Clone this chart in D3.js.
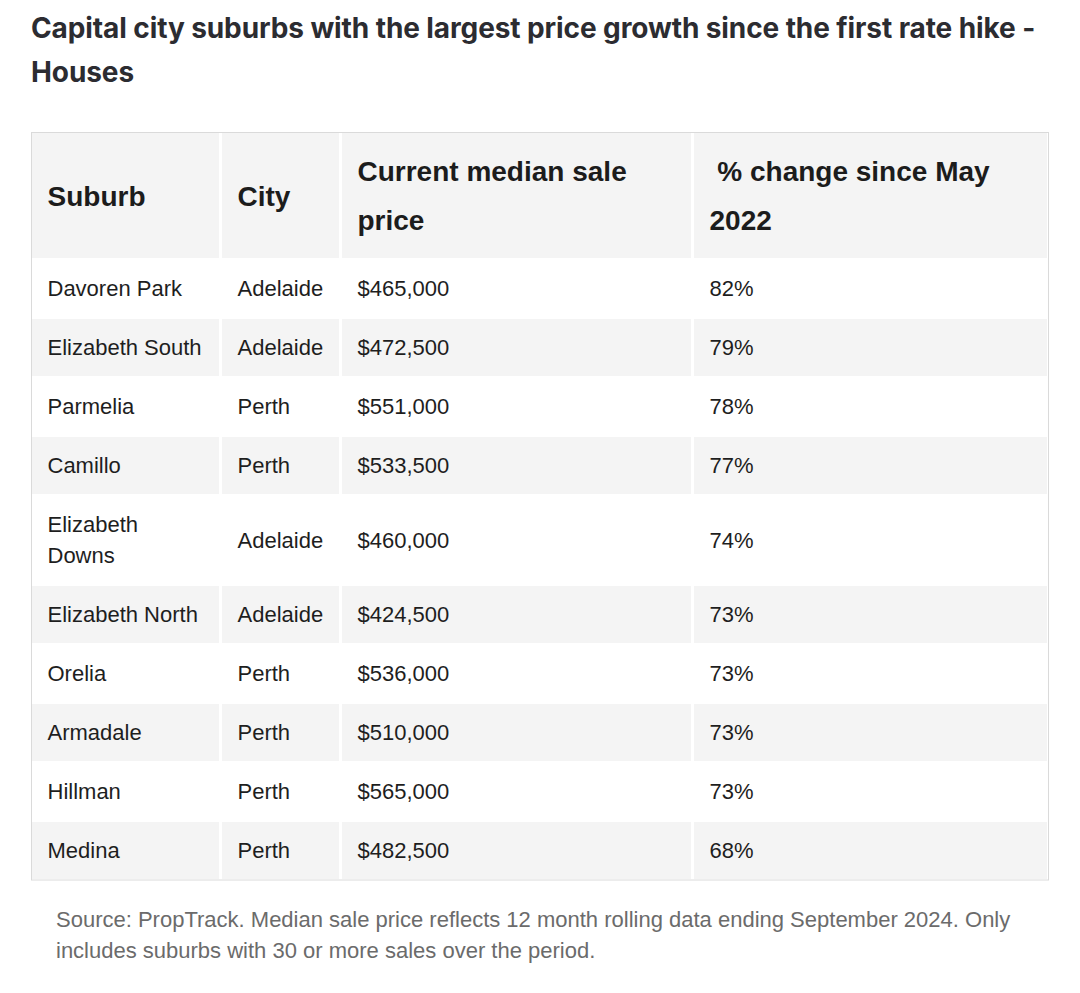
<!DOCTYPE html>
<html><head><meta charset="utf-8">
<script src="https://cdn.jsdelivr.net/npm/d3@7"></script>
<style>body{margin:0;background:#fff} svg{display:block}</style>
</head><body><svg id="c" width="1080" height="993"></svg>
<script>
// ---- data ----
const title = "Capital city suburbs with the largest price growth since the first rate hike - Houses";
const headers = ["Suburb", "City", "Current median sale price", " % change since May 2022"];
const suburbs = ["Davoren Park", "Elizabeth South", "Parmelia", "Camillo", "Elizabeth Downs", "Elizabeth North", "Orelia", "Armadale", "Hillman", "Medina"];
const cities = ["Adelaide", "Adelaide", "Perth", "Perth", "Adelaide", "Adelaide", "Perth", "Perth", "Perth", "Perth"];
const prices = [465000, 472500, 551000, 533500, 460000, 424500, 536000, 510000, 565000, 482500];
const changes = [82, 79, 78, 77, 74, 73, 73, 73, 73, 68];
const source = "Source: PropTrack. Median sale price reflects 12 month rolling data ending September 2024. Only includes suburbs with 30 or more sales over the period.";

// ---- layout ----
const svg = d3.select("#c");
const tableLeft = 31, tableRight = 1048, tableTop = 132;
const colWidths = [187, 117, 349, 353];
const colGap = 3, rowGap = 2, padX = 15.5;
const bodyFont = "'Liberation Sans', Arial, Helvetica, sans-serif";
const bodySize = 22, bodyLH = 31, bodyPadY = 13;
const headSize = 28, headLH = 49, headPadY = 13.5;
const gray = "#f4f4f4";

const fmtPrice = d3.format("$,");
const fmtPct = d => d + "%";

const rows = suburbs.map((s, i) => [s, cities[i], fmtPrice(prices[i]), fmtPct(changes[i])]);

// measuring helper
const meas = svg.append("text").attr("visibility", "hidden").style("white-space", "pre");
function textW(str, size, weight, family, ls) {
  meas.attr("font-family", family).attr("font-size", size).attr("font-weight", weight)
    .attr("letter-spacing", ls || 0).text(str);
  return meas.node().getComputedTextLength();
}
function wrap(str, maxW, size, weight, family, ls) {
  const lead = str.startsWith(" ") ? " " : "";
  const words = str.trim().split(/\s+/);
  const lines = [];
  let cur = lead;
  words.forEach(w => {
    const test = (cur.trim() === "" ? cur + w : cur + " " + w);
    if (textW(test, size, weight, family, ls) > maxW && cur.trim() !== "") {
      lines.push(cur);
      cur = w;
    } else cur = test;
  });
  lines.push(cur);
  return lines;
}

// column x positions (cumulative)
const colX = [];
let cx = tableLeft + 1;
colWidths.forEach(w => { colX.push(cx); cx += w + colGap; });

// ---- title ----
const titleFont = "Inter, 'Noto Sans', sans-serif";
const titleSize = 28, titleLS = -0.1;
const titleLines = wrap(title, tableRight - tableLeft, titleSize, 700, titleFont, titleLS);
svg.append("g").selectAll("text").data(titleLines).join("text")
  .attr("x", tableLeft)
  .attr("y", (d, i) => 38 + i * 44)
  .attr("font-family", titleFont).attr("font-size", titleSize).attr("font-weight", 700)
  .attr("letter-spacing", titleLS)
  .attr("fill", "#2c2c31")
  .text(d => d);

// ---- table ----
const g = svg.append("g");
let y = tableTop + 1;

function drawRow(cells, isHead, fill) {
  const size = isHead ? headSize : bodySize;
  const weight = isHead ? 700 : 400;
  const lh = isHead ? headLH : bodyLH;
  const padY = isHead ? headPadY : bodyPadY;
  const wrapped = cells.map((c, j) => wrap(c, colWidths[j] - 2 * padX, size, weight, bodyFont));
  const nMax = d3.max(wrapped, w => w.length);
  const h = nMax * lh + 2 * padY;
  const rg = g.append("g");
  rg.selectAll("rect").data(colWidths).join("rect")
    .attr("x", (d, j) => colX[j]).attr("y", y)
    .attr("width", d => d).attr("height", h)
    .attr("fill", fill);
  wrapped.forEach((lines, j) => {
    const blockTop = y + (h - lines.length * lh) / 2;
    rg.append("g").selectAll("text").data(lines).join("text")
      .attr("x", colX[j] + padX)
      .attr("y", (d, k) => blockTop + k * lh + lh / 2 + 0.36 * size)
      .attr("font-family", bodyFont).attr("font-size", size).attr("font-weight", weight)
      .attr("fill", isHead ? "#1c1c1c" : "#1e1e1e")
      .style("white-space", "pre")
      .text(d => d);
  });
  y += h + rowGap;
}

drawRow(headers, true, gray);
rows.forEach((r, i) => drawRow(r, false, i % 2 === 0 ? "#ffffff" : gray));
const tableBottom = y - rowGap + 1;

g.append("rect")
  .attr("x", tableLeft + 0.5).attr("y", tableTop + 0.5)
  .attr("width", tableRight - tableLeft).attr("height", tableBottom - tableTop - 0.5)
  .attr("fill", "none").attr("stroke", "#dadada").attr("stroke-width", 1);

// ---- source note ----
const srcSize = 22;
const srcLines = wrap(source, 975, srcSize, 400, bodyFont);
svg.append("g").selectAll("text").data(srcLines).join("text")
  .attr("x", 56)
  .attr("y", (d, i) => tableBottom + 39 + 0.36 * srcSize + i * 31)
  .attr("font-family", bodyFont).attr("font-size", srcSize)
  .attr("fill", "#6b6b6b")
  .text(d => d);

meas.remove();
</script>
</body></html>
